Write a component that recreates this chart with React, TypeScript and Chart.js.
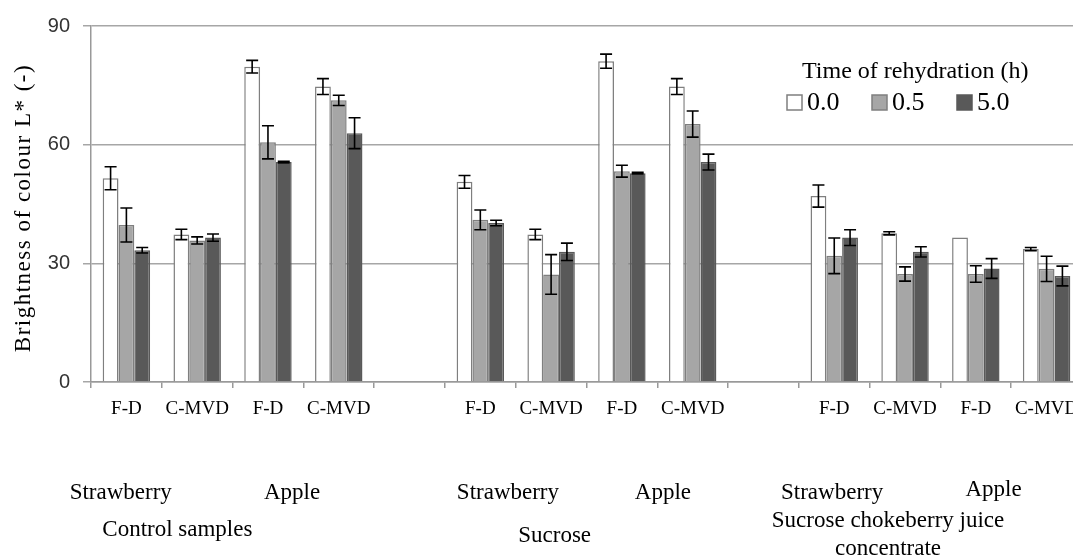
import React, { useEffect, useRef } from "react";
import { Chart, registerables } from "chart.js";

Chart.register(...registerables);

const categories = ["F-D", "C-MVD", "F-D", "C-MVD", "", "F-D", "C-MVD", "F-D", "C-MVD", "", "F-D", "C-MVD", "F-D", "C-MVD"];
const seriesNames = ["0.0", "0.5", "5.0"];

const values00 = [51.5, 37.3, 79.7, 74.7, null, 50.6, 37.3, 81.1, 74.7, null, 47.0, 37.6, 36.5, 33.6];
const values05 = [39.7, 35.8, 60.6, 71.2, null, 41.0, 27.2, 53.3, 65.2, null, 31.9, 27.3, 27.3, 28.6];
const values50 = [33.3, 36.5, 55.6, 62.9, null, 40.2, 32.9, 52.8, 55.6, null, 36.5, 32.9, 28.7, 26.8];

const errors00 = [2.9, 1.3, 1.6, 2.0, null, 1.6, 1.3, 1.8, 2.0, null, 2.8, 0.4, 0, 0.4];
const errors05 = [4.3, 0.9, 4.2, 1.3, null, 2.5, 5.0, 1.5, 3.3, null, 4.5, 1.8, 2.1, 3.2];
const errors50 = [0.7, 0.9, 0.2, 3.9, null, 0.7, 2.2, 0.2, 2.0, null, 2.0, 1.3, 2.5, 2.5];

const yTicks = [0, 30, 60, 90];
const yTitle = "Brightness of colour L* (-)";
const legendTitle = "Time of rehydration (h)";

// group labels: text, category position (fractional index), line
const groupLabels = [
  { text: "Strawberry", at: -0.08, row: 0 },
  { text: "Apple", at: 2.34, row: 0 },
  { text: "Control samples", at: 0.72, row: 1 },
  { text: "Strawberry", at: 5.39, row: 0 },
  { text: "Apple", at: 7.58, row: 0 },
  { text: "Sucrose", at: 6.05, row: 1.15 },
  { text: "Strawberry", at: 9.97, row: 0 },
  { text: "Apple", at: 12.25, row: -0.08 },
  { text: "Sucrose chokeberry juice", at: 10.76, row: 0.75 },
  { text: "concentrate", at: 10.76, row: 1.5 },
];

const fills = ["#ffffff", "#a6a6a6", "#595959"];
const borders = ["#7f7f7f", "#7f7f7f", "#595959"];
const allErrors = [errors00, errors05, errors50];

const SERIF = "'Liberation Serif', 'Times New Roman', serif";
const SANS = "'Liberation Sans', Arial, sans-serif";

const errorBarPlugin = {
  id: "errorBars",
  afterDatasetsDraw(chart: any) {
    const ctx = chart.ctx;
    const y = chart.scales.y;
    ctx.save();
    ctx.strokeStyle = "#000";
    ctx.lineWidth = 1.6;
    chart.data.datasets.forEach((ds: any, i: number) => {
      const meta = chart.getDatasetMeta(i);
      const errs = allErrors[i];
      meta.data.forEach((bar: any, j: number) => {
        const v = ds.data[j];
        const e = errs[j];
        if (v == null || e == null || e <= 0) return;
        const top = y.getPixelForValue(v + e);
        const bot = y.getPixelForValue(v - e);
        const x = bar.x;
        const hw = 6;
        ctx.beginPath();
        ctx.moveTo(x, top);
        ctx.lineTo(x, bot);
        ctx.moveTo(x - hw, top);
        ctx.lineTo(x + hw, top);
        ctx.moveTo(x - hw, bot);
        ctx.lineTo(x + hw, bot);
        ctx.stroke();
      });
    });
    ctx.restore();
  },
};

const annotationPlugin = {
  id: "annotations",
  afterDraw(chart: any) {
    const ctx = chart.ctx;
    const xs = chart.scales.x;
    const area = chart.chartArea;
    const catW = (xs.right - xs.left) / categories.length;
    ctx.save();
    // y-axis title
    ctx.save();
    ctx.translate(24, (area.top + area.bottom) / 2 + 4);
    ctx.rotate(-Math.PI / 2);
    ctx.font = `23px ${SERIF}`;
    (ctx as any).letterSpacing = "1.5px";
    ctx.fillStyle = "#000";
    ctx.textAlign = "center";
    ctx.textBaseline = "middle";
    ctx.fillText(yTitle, 0, 0);
    ctx.restore();

    // group labels
    ctx.font = `23px ${SERIF}`;
    ctx.fillStyle = "#000";
    ctx.textAlign = "center";
    ctx.textBaseline = "middle";
    groupLabels.forEach((g) => {
      const x = xs.left + (g.at + 0.5) * catW;
      const yy = area.bottom + 111 + g.row * 37;
      ctx.fillText(g.text, x, yy);
    });

    // legend
    ctx.textAlign = "left";
    ctx.font = `24px ${SERIF}`;
    ctx.fillText(legendTitle, 802, 72);
    ctx.font = `26px ${SERIF}`;
    const itemX = [787, 872, 957];
    seriesNames.forEach((name, i) => {
      ctx.fillStyle = fills[i];
      ctx.strokeStyle = borders[i];
      ctx.lineWidth = 1.5;
      ctx.fillRect(itemX[i], 95, 15, 15);
      ctx.strokeRect(itemX[i], 95, 15, 15);
      ctx.fillStyle = "#000";
      ctx.fillText(name, itemX[i] + 20, 103);
    });
    ctx.restore();
  },
};

export default function App() {
  const ref = useRef<HTMLCanvasElement | null>(null);
  useEffect(() => {
    if (!ref.current) return;
    const datasets = [values00, values05, values50].map((vals, i) => ({
      label: seriesNames[i],
      data: vals,
      backgroundColor: fills[i],
      borderColor: borders[i],
      borderWidth: 1.5,
      categoryPercentage: 0.67,
      barPercentage: 1.0,
    }));
    const chart = new Chart(ref.current, {
      type: "bar",
      data: { labels: categories, datasets: datasets as any },
      options: {
        animation: false,
        responsive: true,
        maintainAspectRatio: false,
        layout: { padding: { top: 26, right: 18, left: 0, bottom: 0 } },
        plugins: { legend: { display: false }, tooltip: { enabled: false } },
        scales: {
          x: {
            grid: { display: true, drawOnChartArea: false, drawTicks: true, tickLength: 6, color: "#999", lineWidth: 1.5, offset: true },
            border: { color: "#999", width: 1.5 },
            ticks: { font: { family: SERIF, size: 19 }, color: "#000", padding: 10, maxRotation: 0, autoSkip: false },
            afterFit: (s: any) => { s.height = 174; },
          },
          y: {
            min: 0,
            max: 90,
            afterBuildTicks: (s: any) => { s.ticks = yTicks.map((v) => ({ value: v })); },
            ticks: { font: { family: SANS, size: 20 }, color: "#333", padding: 13 },
            grid: { color: "#a6a6a6", lineWidth: 1.5, tickLength: 8 },
            border: { color: "#999", width: 1.5 },
            afterFit: (s: any) => { s.width = 91; },
          },
        },
      } as any,
      plugins: [errorBarPlugin, annotationPlugin],
    });
    return () => chart.destroy();
  }, []);
  return (
    <div style={{ position: "absolute", left: 0, top: 0, width: 1073, height: 556, overflow: "hidden", background: "#fff" }}>
      <div style={{ position: "relative", width: 1100, height: 556 }}>
        <canvas ref={ref} />
      </div>
    </div>
  );
}
